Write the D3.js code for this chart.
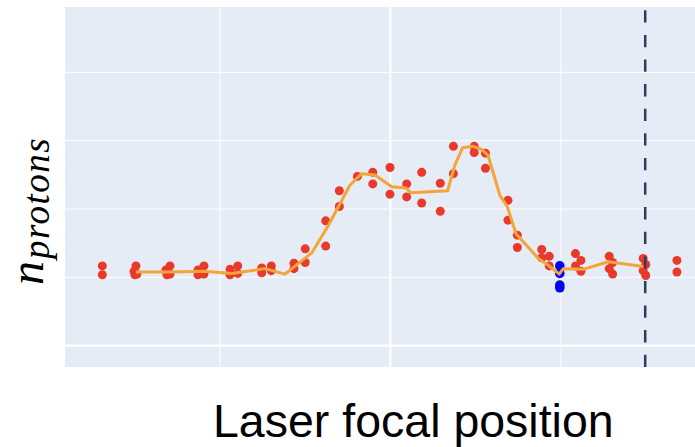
<!DOCTYPE html>
<html lang="en">
<head>
<meta charset="utf-8">
<title>n protons vs laser focal position</title>
<script src="https://cdnjs.cloudflare.com/ajax/libs/d3/7.8.5/d3.min.js"></script>
<style>
  html, body { margin: 0; padding: 0; background: #fff; }
  svg { display: block; }
</style>
</head>
<body>
<div class="chart"></div>
<script>
// shots (red), per-position x and y
const redX = [-1.687, -1.687, -1.490, -1.501, -1.496, -1.484, -1.290, -1.314, -1.308, -1.290,
              -1.091, -1.126, -1.126, -1.091, -0.938, -0.938, -0.893, -0.893, -0.752, -0.752,
              -0.696, -0.696, -0.563, -0.563, -0.497, -0.497, -0.377, -0.377, -0.297, -0.297,
              -0.191, -0.101, -0.101, 0.000, 0.000, 0.098, 0.098, 0.186, 0.186, 0.295,
              0.295, 0.372, 0.372, 0.494, 0.494, 0.560, 0.560, 0.692, 0.692, 0.747,
              0.747, 0.890, 0.890, 0.934, 0.934, 1.088, 1.120, 1.088, 1.120, 1.286,
              1.306, 1.286, 1.306, 1.485, 1.500, 1.485, 1.500, 1.683, 1.683];
const redY = [1.16, 1.03, 1.16, 1.08, 1.03, 1.04, 1.16, 1.10, 1.03, 1.04,
              1.16, 1.10, 1.03, 1.04, 1.11, 1.03, 1.16, 1.05, 1.13, 1.06,
              1.16, 1.09, 1.20, 1.12, 1.41, 1.21, 1.82, 1.45, 2.26, 2.03,
              2.47, 2.53, 2.36, 2.60, 2.21, 2.36, 2.17, 2.53, 2.08, 2.37,
              1.96, 2.91, 2.51, 2.91, 2.82, 2.81, 2.59, 2.12, 1.83, 1.61,
              1.43, 1.40, 1.28, 1.30, 1.16, 1.34, 1.24, 1.16, 1.08, 1.30,
              1.21, 1.12, 1.04, 1.27, 1.18, 1.09, 1.02, 1.24, 1.07];

// highlighted shots (blue)
const blueX = [0.996, 0.996, 0.996, 0.996];
const blueY = [1.16, 1.05, 0.88, 0.84];

// running mean (orange)
const meanX = [-1.490, -1.290, -1.091, -0.927, -0.733, -0.616, -0.459, -0.364, -0.235, -0.166,
               -0.088, 0.010, 0.094, 0.123, 0.338, 0.381, 0.426, 0.487, 0.540, 0.575,
               0.645, 0.688, 0.739, 0.870, 0.928, 0.993, 1.016, 1.134, 1.280, 1.486];
const meanY = [1.07, 1.07, 1.08, 1.05, 1.12, 1.04, 1.35, 1.74, 2.34, 2.51,
               2.49, 2.32, 2.30, 2.23, 2.26, 2.64, 2.89, 2.91, 2.86, 2.78,
               2.19, 2.03, 1.63, 1.27, 1.17, 1.04, 1.12, 1.11, 1.22, 1.15];

// marked focal position
const markerX = 1.497;

const xTicks = [-1, 0, 1];
const yTicks = [0, 1, 2, 3, 4];

const w = 695;
const h = 447;
const plot = {left: 65, right: 695, top: 7, bottom: 367};

const svg = d3.select(".chart")
  .append("svg")
  .attr("width", w)
  .attr("height", h);

const xScale = d3.scaleLinear()
  .domain([-1.906, 1.789])
  .range([plot.left, plot.right]);

const yScale = d3.scaleLinear()
  .domain([-0.32, 4.95])
  .range([plot.bottom, plot.top]);

svg.append("rect")
  .attr("x", plot.left)
  .attr("y", plot.top)
  .attr("width", plot.right - plot.left)
  .attr("height", plot.bottom - plot.top)
  .attr("fill", "#e5ecf6");

// grid
const xGrid = d3.axisBottom(xScale)
  .tickValues(xTicks)
  .tickSize(-(plot.bottom - plot.top))
  .tickFormat("");
svg.append("g")
  .attr("class", "grid")
  .attr("transform", "translate(0," + plot.bottom + ")")
  .call(xGrid)
  .call(g => g.select(".domain").remove())
  .call(g => g.selectAll("line")
    .attr("stroke", "#fff")
    .attr("stroke-width", d => d === 0 ? 2 : 1));

const yGrid = d3.axisLeft(yScale)
  .tickValues(yTicks)
  .tickSize(-(plot.right - plot.left))
  .tickFormat("");
svg.append("g")
  .attr("class", "grid")
  .attr("transform", "translate(" + plot.left + ",0)")
  .call(yGrid)
  .call(g => g.select(".domain").remove())
  .call(g => g.selectAll("line")
    .attr("stroke", "#fff")
    .attr("stroke-width", d => d === 0 ? 2.5 : 1));

// points
svg.append("g")
  .selectAll("circle")
  .data(redX)
  .enter()
  .append("circle")
  .attr("cx", d => xScale(d))
  .attr("cy", (d, i) => yScale(redY[i]))
  .attr("r", 4.5)
  .attr("fill", "#e8392b");

svg.append("g")
  .selectAll("circle")
  .data(blueX)
  .enter()
  .append("circle")
  .attr("cx", d => xScale(d))
  .attr("cy", (d, i) => yScale(blueY[i]))
  .attr("r", 4.8)
  .attr("fill", "#0000ff");

// mean line
const line = d3.line()
  .x(d => xScale(d[0]))
  .y(d => yScale(d[1]));
svg.append("path")
  .datum(meanX.map((x, i) => [x, meanY[i]]))
  .attr("d", line)
  .attr("fill", "none")
  .attr("stroke", "#f3a53a")
  .attr("stroke-width", 3)
  .attr("stroke-linejoin", "round");

// dashed marker, drawn bottom up
svg.append("line")
  .attr("x1", xScale(markerX))
  .attr("x2", xScale(markerX))
  .attr("y1", plot.bottom)
  .attr("y2", plot.top)
  .attr("stroke", "#2a3f5f")
  .attr("stroke-width", 2.5)
  .attr("stroke-dasharray", "12.3,12.3");

// axis titles
svg.append("text")
  .attr("x", 213)
  .attr("y", 437)
  .style("font-family", "'Liberation Sans', Arial, sans-serif")
  .style("font-size", "46.5px")
  .attr("fill", "#000")
  .text("Laser focal position");

const yl = svg.append("text")
  .attr("transform", "translate(43,285) rotate(-90)")
  .style("font-family", "'Liberation Serif', 'Times New Roman', serif")
  .style("font-style", "italic")
  .attr("fill", "#000");
yl.append("tspan")
  .style("font-size", "48px")
  .text("n");
yl.append("tspan")
  .attr("dy", 6)
  .attr("dx", 2)
  .style("font-size", "37px")
  .style("letter-spacing", "1.5px")
  .text("protons");
</script>
</body>
</html>
